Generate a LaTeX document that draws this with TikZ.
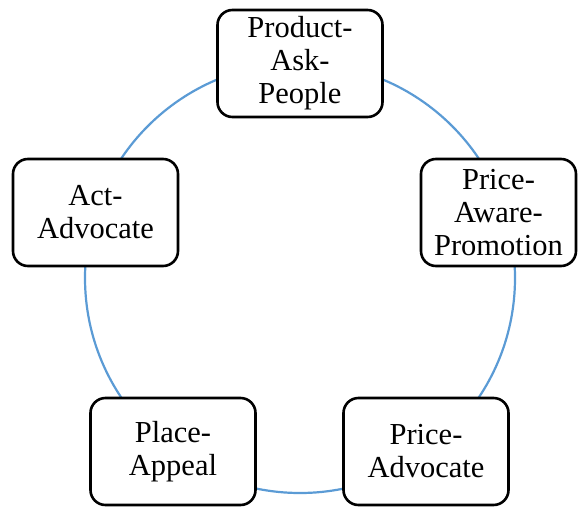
\documentclass[tikz,border=0pt]{standalone}
\usepackage{fontspec}
\setmainfont{Liberation Serif}
\definecolor{ringblue}{RGB}{91,155,213}
\begin{document}
\begin{tikzpicture}[x=1pt,y=-1pt,
  stage/.style={draw=black, line width=2.6pt, rounded corners=15pt, fill=white,
    minimum width=165pt, minimum height=107pt, align=center, inner sep=0pt,
    font=\fontsize{30.5}{33}\selectfont},
  ring/.style={draw=ringblue, line width=2.2pt}]
\useasboundingbox (0,0) rectangle (578,506);
% the cycle behind the stages
\coordinate (c) at (300,278);
\draw[ring] (c) circle[radius=215pt];
% the five stages
\node[stage] (top) at (300,63.5) {Product-\\Ask-\\People};
\node[stage, minimum width=155pt] (right) at (498.5,212.5) {Price-\\Aware-\\Promotion};
\node[stage] (bright) at (426,451.5) {Price-\\Advocate};
\node[stage] (bleft) at (173,451.5) {Place-\\Appeal};
\node[stage] (left) at (95.5,212.5) {Act-\\Advocate};
\end{tikzpicture}
\end{document}
